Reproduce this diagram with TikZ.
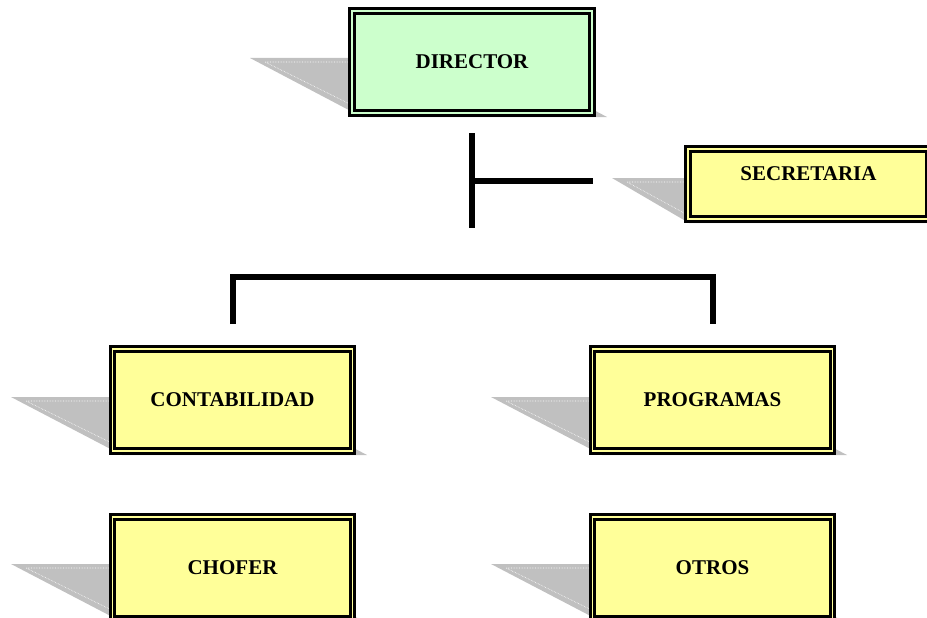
\documentclass[tikz,border=0pt]{standalone}
\usepackage{fontspec}
\setmainfont{Liberation Serif}
\definecolor{boxgreen}{HTML}{CCFFCC}
\definecolor{boxyellow}{HTML}{FFFF99}
\definecolor{shadegray}{HTML}{C0C0C0}

% Slanted drop shade behind a unit box:
% #1 tip x, #2 tip y, #3 lower-left x, #4 bottom y, #5 lower-right x
\newcommand\unitshade[5]{%
  \fill[dropshade] (#1,#2) -- ({#5-#3+#1},#2) -- (#5,#4) -- (#3,#4) -- cycle;
  \draw[shadeedge] ({#1+120},{#2+4}) -- ({#1+15},{#2+4}) -- ({#3+8},{#4-3});
}

\begin{document}
\begin{tikzpicture}[x=1pt,y=-1pt,
  unit/.style={draw=black, line width=3pt, double distance=1.8pt,
    outer sep=0pt, inner sep=0pt, minimum width=240pt, minimum height=102pt,
    font=\fontsize{21}{25}\selectfont\bfseries},
  greenunit/.style={unit, fill=boxgreen, double=boxgreen},
  yellowunit/.style={unit, fill=boxyellow, double=boxyellow},
  unitlabel/.style={inner sep=0pt, font=\fontsize{21}{25}\selectfont\bfseries},
  link/.style={line width=5.5pt},
  dropshade/.style={fill=shadegray},
  shadeedge/.style={white, line width=0.6pt, densely dotted}]

\clip (0,0) rectangle (927,618);

% shades
\unitshade{250}{58}{362}{117}{607}
\unitshade{612}{178}{689}{223}{944}
\unitshade{11}{397}{122}{455}{367}
\unitshade{491}{397}{602}{455}{847}
\unitshade{11}{564}{124}{623}{367}
\unitshade{491}{564}{604}{623}{847}

% units
\node[greenunit] (dir) at (472,62) {DIRECTOR};
\node[yellowunit, minimum width=241pt, minimum height=70pt] (sec) at (808.5,184) {};
\node[unitlabel] (seclabel) at ([yshift=10pt]sec.center) {SECRETARIA};
\node[yellowunit] (cont) at (232.5,400) {CONTABILIDAD};
\node[yellowunit] (prog) at (712.5,400) {PROGRAMAS};
\node[yellowunit] (chof) at (232.5,568) {CHOFER};
\node[yellowunit] (otros) at (712.5,568) {OTROS};

% connector ends
\coordinate (trunktop) at (472,133);
\coordinate (trunkbot) at (472,228);
\coordinate (sectap) at (472,181);
\coordinate (secend) at (593,181);
\coordinate (busleft) at (233,277);
\coordinate (busright) at (713,277);
\coordinate (contdrop) at (233,324);
\coordinate (progdrop) at (713,324);

\draw[link] (trunktop) -- (trunkbot);
\draw[link] (sectap) -- (secend);
\draw[link] (contdrop) -- (busleft) -- (busright) -- (progdrop);
\end{tikzpicture}
\end{document}
